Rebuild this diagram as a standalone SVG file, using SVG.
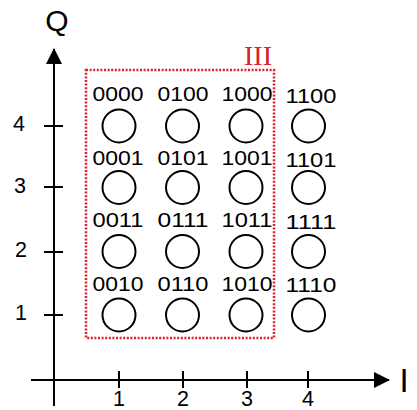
<svg xmlns="http://www.w3.org/2000/svg" width="417" height="410" viewBox="0 0 417 410">
<defs>
<style>
.ax{stroke:#000;stroke-width:2;fill:none}
.pt{stroke:#000;stroke-width:2;fill:#fff}
.lb{font-family:"Liberation Sans",Arial,sans-serif;font-size:20.5px;fill:#000;text-anchor:middle}
.tk{font-family:"Liberation Sans",Arial,sans-serif;font-size:21.5px;fill:#000;text-anchor:middle}
.axl{font-family:"Liberation Sans",Arial,sans-serif;font-size:30px;fill:#000;text-anchor:middle}
</style>
<marker id="ah" viewBox="0 0 16 16" refX="15" refY="8" markerWidth="16" markerHeight="16" markerUnits="userSpaceOnUse" orient="auto">
<path d="M0,0 L16,8 L0,16 Z" fill="#000"/>
</marker>
</defs>
<rect width="417" height="410" fill="#fff"/>
<g id="connectors">
<line class="ax" x1="54" y1="406" x2="54" y2="49" marker-end="url(#ah)"/>
<line class="ax" x1="31" y1="380" x2="389" y2="380" marker-end="url(#ah)"/>
<line class="ax" x1="44" y1="126" x2="63" y2="126"/>
<line class="ax" x1="44" y1="187" x2="63" y2="187"/>
<line class="ax" x1="44" y1="252" x2="63" y2="252"/>
<line class="ax" x1="44" y1="315" x2="63" y2="315"/>
<line class="ax" x1="119" y1="371" x2="119" y2="388"/>
<line class="ax" x1="183" y1="371" x2="183" y2="388"/>
<line class="ax" x1="247" y1="371" x2="247" y2="388"/>
<line class="ax" x1="308" y1="371" x2="308" y2="388"/>
</g>
<g id="axis-labels">
<text class="axl" x="57" y="31">Q</text>
<text class="axl" x="404" y="392" style="font-size:33px">I</text>
<text class="tk" x="19" y="131">4</text>
<text class="tk" x="20" y="193">3</text>
<text class="tk" x="21" y="257">2</text>
<text class="tk" x="21" y="320">1</text>
<text class="tk" x="119" y="406">1</text>
<text class="tk" x="183" y="406">2</text>
<text class="tk" x="247" y="406">3</text>
<text class="tk" x="308" y="406">4</text>
</g>
<g id="region-III">
<rect x="86" y="70" width="188" height="268" fill="none" stroke="#e0202c" stroke-width="2.5" stroke-dasharray="2 1.6"/>
<text x="258" y="65" style="font-family:'Liberation Serif','Times New Roman',serif;font-size:28px;fill:#d9202a;text-anchor:middle">III</text>
</g>
<g id="n0000"><text class="lb" x="118" y="101" textLength="51" lengthAdjust="spacingAndGlyphs">0000</text><circle class="pt" cx="119" cy="126" r="16.5"/></g>
<g id="n0100"><text class="lb" x="183" y="101" textLength="51" lengthAdjust="spacingAndGlyphs">0100</text><circle class="pt" cx="182.5" cy="126" r="16.5"/></g>
<g id="n1000"><text class="lb" x="247" y="101" textLength="51" lengthAdjust="spacingAndGlyphs">1000</text><circle class="pt" cx="246" cy="126" r="16.5"/></g>
<g id="n1100"><text class="lb" x="311" y="103" textLength="51" lengthAdjust="spacingAndGlyphs">1100</text><circle class="pt" cx="308.5" cy="126" r="16.5"/></g>
<g id="n0001"><text class="lb" x="118" y="165" textLength="51" lengthAdjust="spacingAndGlyphs">0001</text><circle class="pt" cx="119" cy="187.5" r="16.5"/></g>
<g id="n0101"><text class="lb" x="183" y="165" textLength="51" lengthAdjust="spacingAndGlyphs">0101</text><circle class="pt" cx="182.5" cy="187.5" r="16.5"/></g>
<g id="n1001"><text class="lb" x="247" y="165" textLength="51" lengthAdjust="spacingAndGlyphs">1001</text><circle class="pt" cx="246" cy="187.5" r="16.5"/></g>
<g id="n1101"><text class="lb" x="311" y="167" textLength="51" lengthAdjust="spacingAndGlyphs">1101</text><circle class="pt" cx="308.5" cy="187.5" r="16.5"/></g>
<g id="n0011"><text class="lb" x="118" y="227" textLength="51" lengthAdjust="spacingAndGlyphs">0011</text><circle class="pt" cx="119" cy="251.5" r="16.5"/></g>
<g id="n0111"><text class="lb" x="183" y="227" textLength="51" lengthAdjust="spacingAndGlyphs">0111</text><circle class="pt" cx="182.5" cy="251.5" r="16.5"/></g>
<g id="n1011"><text class="lb" x="247" y="227" textLength="51" lengthAdjust="spacingAndGlyphs">1011</text><circle class="pt" cx="246" cy="251.5" r="16.5"/></g>
<g id="n1111"><text class="lb" x="311" y="229" textLength="51" lengthAdjust="spacingAndGlyphs">1111</text><circle class="pt" cx="308.5" cy="251.5" r="16.5"/></g>
<g id="n0010"><text class="lb" x="118" y="291" textLength="51" lengthAdjust="spacingAndGlyphs">0010</text><circle class="pt" cx="119" cy="315" r="16.5"/></g>
<g id="n0110"><text class="lb" x="183" y="291" textLength="51" lengthAdjust="spacingAndGlyphs">0110</text><circle class="pt" cx="182.5" cy="315" r="16.5"/></g>
<g id="n1010"><text class="lb" x="247" y="291" textLength="51" lengthAdjust="spacingAndGlyphs">1010</text><circle class="pt" cx="246" cy="315" r="16.5"/></g>
<g id="n1110"><text class="lb" x="311" y="292" textLength="51" lengthAdjust="spacingAndGlyphs">1110</text><circle class="pt" cx="308.5" cy="315" r="16.5"/></g>
</svg>
